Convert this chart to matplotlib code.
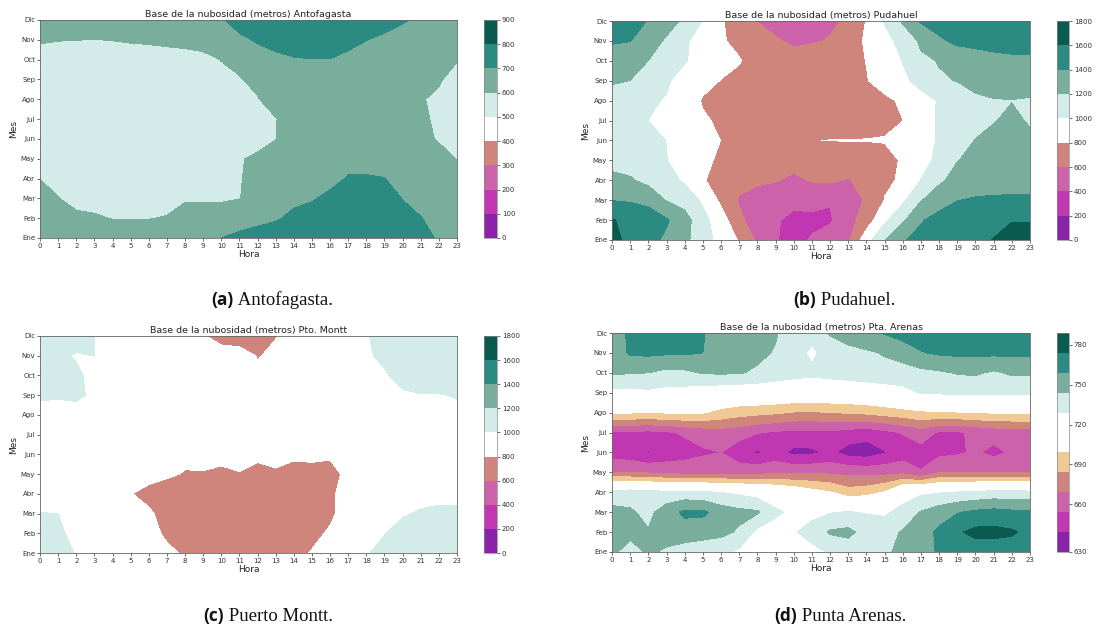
import numpy as np
import matplotlib
matplotlib.use('Agg')
import matplotlib.pyplot as plt

horas = list(range(24))
meses = ['Ene', 'Feb', 'Mar', 'Abr', 'May', 'Jun', 'Jul', 'Ago', 'Sep', 'Oct', 'Nov', 'Dic']

# ---------------- (a) Antofagasta ----------------
antofagasta = [
    [660, 660, 655, 650, 650, 650, 650, 655, 665, 680, 700, 720, 740, 750, 760, 765, 770, 775, 775, 770, 760, 730, 690, 680],
    [650, 640, 620, 610, 597, 597, 597, 605, 640, 640, 640, 660, 673, 690, 720, 730, 745, 750, 755, 750, 725, 702, 680, 670],
    [620, 603, 570, 570, 565, 560, 565, 570, 590, 590, 590, 598, 630, 660, 680, 694, 715, 730, 735, 730, 698, 680, 660, 650],
    [599, 575, 560, 555, 550, 550, 550, 555, 560, 570, 580, 595, 625, 650, 665, 670, 680, 705, 706, 701, 680, 665, 650, 640],
    [590, 570, 555, 550, 545, 545, 545, 550, 555, 565, 580, 596, 610, 640, 655, 660, 665, 680, 676, 680, 665, 650, 620, 598],
    [585, 565, 550, 545, 540, 540, 540, 545, 550, 560, 570, 580, 580, 598, 650, 660, 665, 670, 670, 665, 650, 615, 595, 570],
    [585, 565, 550, 545, 540, 540, 540, 545, 550, 560, 570, 575, 575, 596, 650, 660, 665, 670, 670, 660, 640, 610, 590, 560],
    [585, 570, 555, 550, 545, 545, 545, 550, 555, 565, 575, 585, 595, 640, 660, 665, 670, 670, 665, 660, 640, 603, 592, 570],
    [575, 565, 560, 555, 555, 555, 555, 560, 565, 570, 580, 595, 620, 660, 680, 685, 685, 680, 670, 660, 640, 620, 605, 582],
    [560, 560, 560, 560, 560, 565, 568, 570, 575, 580, 602, 620, 680, 690, 697, 699, 699, 690, 680, 670, 655, 640, 630, 603],
    [610, 603, 601, 599, 602, 607, 610, 616, 620, 630, 660, 690, 705, 715, 720, 725, 725, 712, 701, 690, 680, 670, 660, 650],
    [640, 645, 645, 640, 640, 640, 645, 650, 660, 675, 695, 720, 740, 750, 755, 760, 760, 755, 745, 720, 705, 690, 670, 660],
]

# ---------------- (b) Pudahuel ----------------
pudahuel = [
    [1680, 1530, 1450, 1370, 1260, 1050, 960, 780, 560, 420, 300, 430, 480, 570, 920, 1195, 1380, 1470, 1500, 1530, 1560, 1605, 1680, 1680],
    [1610, 1560, 1540, 1420, 1280, 1060, 890, 650, 480, 440, 300, 330, 380, 520, 700, 960, 1170, 1380, 1480, 1520, 1540, 1560, 1590, 1590],
    [1395, 1380, 1330, 1190, 1120, 970, 760, 580, 520, 500, 500, 500, 410, 560, 610, 805, 960, 1190, 1300, 1395, 1420, 1430, 1430, 1430],
    [1240, 1220, 1150, 1080, 970, 820, 700, 660, 630, 610, 570, 610, 630, 590, 650, 780, 815, 1005, 1170, 1260, 1300, 1310, 1320, 1320],
    [1150, 1120, 1080, 1005, 900, 840, 770, 700, 680, 660, 650, 660, 660, 670, 690, 770, 810, 940, 1040, 1195, 1240, 1270, 1290, 1300],
    [1170, 1120, 1060, 997, 920, 870, 798, 760, 740, 730, 740, 797, 803, 805, 805, 805, 880, 960, 1010, 1140, 1205, 1250, 1290, 1240],
    [1100, 1050, 998, 930, 880, 820, 775, 750, 730, 720, 710, 700, 700, 710, 740, 780, 798, 960, 1010, 1100, 1150, 1190, 1240, 1180],
    [1080, 1060, 1030, 985, 900, 785, 720, 690, 680, 670, 660, 660, 660, 670, 700, 760, 830, 950, 1010, 1100, 1170, 1190, 1195, 1180],
    [1230, 1198, 1110, 1030, 905, 850, 795, 760, 720, 700, 700, 700, 710, 730, 790, 880, 970, 1045, 1180, 1205, 1250, 1280, 1300, 1300],
    [1300, 1260, 1199, 1100, 1015, 915, 860, 810, 730, 700, 690, 690, 700, 720, 805, 920, 1005, 1160, 1210, 1280, 1320, 1360, 1380, 1385],
    [1420, 1405, 1300, 1170, 1040, 880, 815, 765, 700, 625, 560, 585, 610, 730, 820, 960, 1040, 1240, 1370, 1440, 1450, 1450, 1440, 1430],
    [1480, 1440, 1395, 1290, 1160, 995, 822, 690, 595, 520, 480, 490, 575, 620, 810, 1010, 1230, 1420, 1480, 1500, 1510, 1510, 1500, 1500],
]

# ---------------- (c) Puerto Montt ----------------
puerto_montt = [
    [1060, 1040, 995, 950, 920, 900, 870, 830, 783, 730, 700, 690, 690, 700, 780, 805, 880, 940, 990, 1040, 1060, 1070, 1080, 1080],
    [1030, 1015, 975, 930, 900, 880, 850, 775, 720, 690, 680, 680, 680, 690, 720, 780, 810, 900, 960, 995, 1040, 1050, 1060, 1060],
    [1003, 1001, 960, 920, 890, 860, 820, 750, 720, 700, 700, 700, 700, 700, 710, 740, 785, 835, 900, 950, 990, 1010, 1015, 1015],
    [930, 920, 910, 890, 860, 805, 760, 720, 700, 690, 690, 690, 690, 690, 700, 720, 790, 823, 880, 920, 950, 970, 980, 980],
    [900, 900, 890, 880, 870, 860, 845, 824, 790, 792, 780, 794, 775, 787, 770, 775, 770, 822, 860, 890, 910, 930, 950, 960],
    [920, 920, 910, 900, 890, 880, 865, 850, 835, 840, 828, 845, 817, 830, 815, 817, 812, 850, 880, 910, 930, 950, 965, 970],
    [940, 935, 925, 915, 905, 895, 880, 870, 860, 855, 850, 797, 850, 855, 860, 865, 870, 885, 905, 925, 945, 960, 975, 980],
    [993, 992, 990, 970, 945, 920, 900, 885, 875, 870, 870, 870, 870, 870, 875, 885, 900, 920, 940, 960, 975, 985, 990, 992],
    [1003, 1002, 1005, 995, 960, 930, 910, 895, 880, 870, 870, 870, 870, 870, 880, 890, 910, 930, 950, 970, 990, 998, 998, 1002],
    [1030, 1025, 1015, 975, 950, 920, 900, 880, 860, 840, 830, 820, 810, 820, 840, 870, 900, 940, 970, 992, 1025, 1025, 1030, 1030],
    [1040, 1015, 993, 1001, 960, 930, 900, 870, 850, 830, 830, 825, 797, 810, 840, 870, 900, 940, 990, 1015, 1030, 1035, 1040, 1040],
    [1050, 1045, 1035, 1001, 960, 920, 890, 860, 830, 805, 775, 770, 760, 798, 850, 890, 930, 970, 994, 1030, 1040, 1045, 1050, 1050],
]

# ---------------- (d) Punta Arenas ----------------
punta_arenas = [
    [747, 738, 746, 742, 737, 735, 733, 726, 722, 720, 722, 726, 730, 735, 738, 742, 747, 752, 761, 765, 766, 766, 766, 766],
    [750, 748, 745, 750, 752, 750, 748, 742, 725, 722, 728, 733, 746, 748, 738, 740, 745, 752, 762, 772, 778, 778, 776, 770],
    [748, 746, 740, 752, 762, 762, 752, 748, 746, 732, 725, 726, 728, 730, 728, 726, 735, 745, 752, 758, 762, 764, 762, 762],
    [736, 737, 734, 733, 733, 731, 729, 726, 722, 718, 712, 705, 700, 690, 693, 700, 720, 726, 728, 730, 732, 734, 734, 733],
    [669, 668, 667, 664, 663, 663, 662, 662, 664, 665, 666, 667, 666, 665, 664, 664, 665, 655, 668, 668, 668, 668, 668, 668],
    [646, 645, 638, 645, 648, 652, 654, 645, 637, 645, 635, 636, 642, 633, 631, 638, 646, 648, 650, 652, 656, 650, 656, 660],
    [652, 651, 650, 652, 656, 660, 663, 660, 655, 652, 650, 650, 651, 648, 645, 650, 655, 662, 652, 652, 657, 660, 662, 662],
    [701, 700, 699, 700, 701, 700, 694, 690, 688, 686, 683, 682, 684, 685, 687, 690, 693, 696, 697, 698, 699, 700, 700, 701],
    [724, 724, 726, 724, 723, 720, 718, 717, 717, 716, 715, 715, 715, 716, 717, 720, 724, 730, 731, 732, 732, 732, 732, 732],
    [746, 745, 744, 740, 741, 745, 746, 745, 742, 738, 735, 733, 735, 737, 739, 740, 738, 740, 742, 745, 746, 742, 746, 746],
    [750, 761, 762, 761, 761, 759, 752, 750, 747, 743, 737, 725, 738, 740, 742, 745, 750, 758, 761, 762, 762, 762, 762, 762],
    [750, 762, 766, 767, 766, 760, 752, 750, 748, 745, 738, 736, 745, 750, 755, 760, 765, 767, 767, 766, 766, 766, 766, 766],
]

levels_a = [0, 100, 200, 300, 400, 500, 600, 700, 800, 900]
levels_bc = [0, 200, 400, 600, 800, 1000, 1200, 1400, 1600, 1800]
levels_d = [630, 639, 654, 669, 684, 699, 714, 729, 744, 759, 774, 789]
ticks_a = [0, 100, 200, 300, 400, 500, 600, 700, 800, 900]
ticks_bc = [0, 200, 400, 600, 800, 1000, 1200, 1400, 1600, 1800]
ticks_d = [630, 660, 690, 720, 750, 780]

PURPLE = '#8a22aa'
MAGENTA = '#c137b1'
PINK = '#cc62a9'
SALMON = '#cf857c'
WHITE = '#ffffff'
LCYAN = '#d3ecea'
SAGE = '#79ad9c'
TEAL = '#2b8b83'
DTEAL = '#0a5a50'
TAN = '#f0c995'

colors_9 = [PURPLE, MAGENTA, PINK, SALMON, WHITE, LCYAN, SAGE, TEAL, DTEAL]
colors_d = [PURPLE, MAGENTA, PINK, SALMON, TAN, WHITE, WHITE, LCYAN, SAGE, TEAL, DTEAL]

W, H = 1096, 630
fig = plt.figure(figsize=(W / 100, H / 100), dpi=100)
fig.patch.set_facecolor('white')


def rect(x0, y0, x1, y1):
    return [x0 / W, 1 - y1 / H, (x1 - x0) / W, (y1 - y0) / H]


def panel(axr, cbr, data, levels, colors, ticks, title):
    ax = fig.add_axes(rect(*axr))
    Z = np.array(data, dtype=float)
    cs = ax.contourf(horas, list(range(12)), Z, levels=levels, colors=colors)
    ax.set_xticks(horas)
    ax.set_xticklabels([str(h) for h in horas])
    ax.set_yticks(list(range(12)))
    ax.set_yticklabels(meses)
    ax.tick_params(labelsize=5, length=2, width=0.5, pad=1.5, colors='#333333')
    for s in ax.spines.values():
        s.set_linewidth(0.6)
        s.set_color('#666666')
    ax.set_xlabel('Hora', fontsize=6.5, labelpad=1, color='#222222')
    ax.set_ylabel('Mes', fontsize=6.5, labelpad=2, color='#222222')
    ax.set_title(title, fontsize=6.8, pad=2, color='#222222')
    cax = fig.add_axes(rect(*cbr))
    cb = fig.colorbar(cs, cax=cax, ticks=ticks)
    cb.ax.tick_params(labelsize=5, length=2, width=0.5, pad=1.5, colors='#333333')
    cb.outline.set_linewidth(0.5)
    cb.outline.set_edgecolor('#888888')
    return ax


panel((40, 20, 457, 238), (484, 20, 497, 238), antofagasta, levels_a, colors_9, ticks_a,
      'Base de la nubosidad (metros) Antofagasta')
panel((612, 21, 1030, 240), (1057, 21, 1069, 240), pudahuel, levels_bc, colors_9, ticks_bc,
      'Base de la nubosidad (metros) Pudahuel')
panel((40, 336, 457, 553), (484, 336, 497, 553), puerto_montt, levels_bc, colors_9, ticks_bc,
      'Base de la nubosidad (metros) Pto. Montt')
panel((612, 333, 1030, 552), (1057, 333, 1069, 552), punta_arenas, levels_d, colors_d, ticks_d,
      'Base de la nubosidad (metros) Pta. Arenas')

captions = [
    ((272, 305), '(a)', 'Antofagasta.'),
    ((844, 305), '(b)', 'Pudahuel.'),
    ((268, 621), '(c)', 'Puerto Montt.'),
    ((840, 621), '(d)', 'Punta Arenas.'),
]
FS = 13.5
items = []
for (xc, yb), lab, name in captions:
    t1 = fig.text(0, 1 - yb / H, lab, fontfamily='Open Sans', fontweight='bold', fontsize=FS - 1,
                  va='baseline', ha='left', color='#111111')
    t2 = fig.text(0, 1 - yb / H, '\u00a0' + name, fontfamily='Liberation Serif', fontsize=FS,
                  va='baseline', ha='left', color='#111111')
    items.append((xc, t1, t2))

fig.canvas.draw()
r = fig.canvas.get_renderer()
for xc, t1, t2 in items:
    w1 = t1.get_window_extent(r).width
    w2 = t2.get_window_extent(r).width
    x0 = xc - (w1 + w2) / 2
    t1.set_x(x0 / W)
    t2.set_x((x0 + w1) / W)

fig.savefig('out.png', dpi=100, facecolor='white')
